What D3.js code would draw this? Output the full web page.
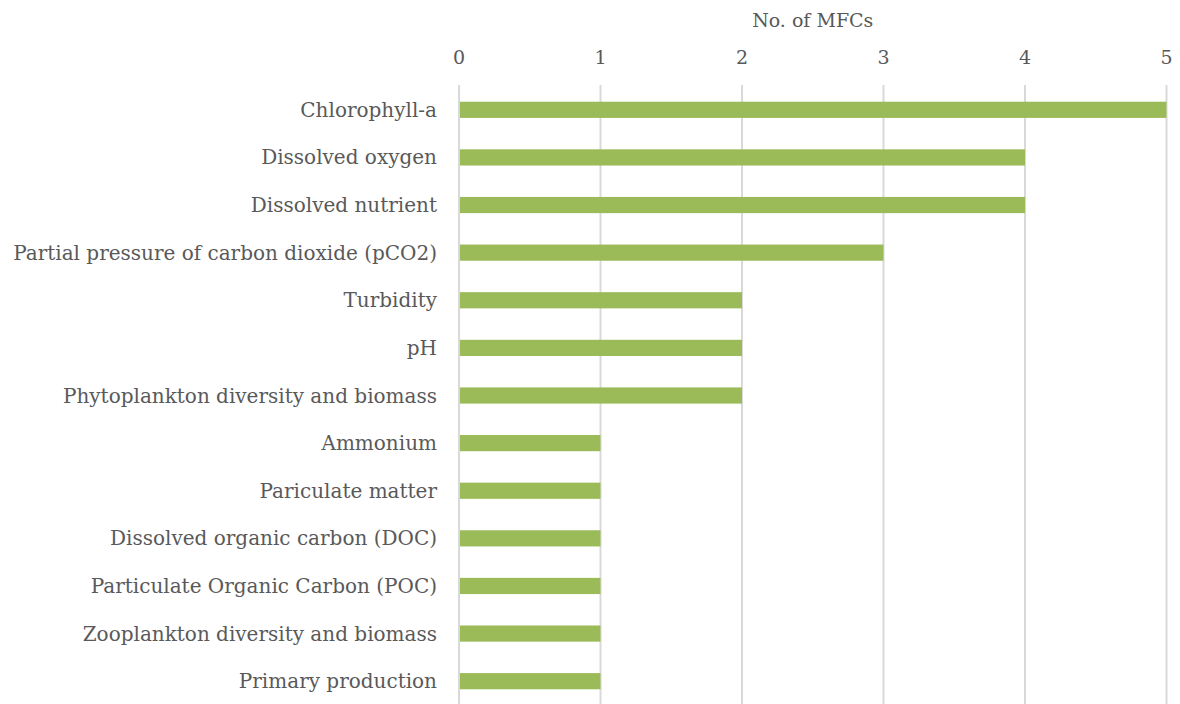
<!DOCTYPE html>
<html><head><meta charset="utf-8">
<script src="https://cdn.jsdelivr.net/npm/d3@7"></script>
<style>body{margin:0;background:#fff}text{font-family:"DejaVu Serif",serif;fill:#595959}</style>
</head><body><svg id="c" width="1180" height="704"></svg>
<script>
const categories = ["Chlorophyll-a","Dissolved oxygen","Dissolved nutrient","Partial pressure of carbon dioxide (pCO2)","Turbidity","pH","Phytoplankton diversity and biomass","Ammonium","Pariculate matter","Dissolved organic carbon (DOC)","Particulate Organic Carbon (POC)","Zooplankton diversity and biomass","Primary production"];
const values = [5,4,4,3,2,2,2,1,1,1,1,1,1];
const ticks = [0,1,2,3,4,5];
const axisTitle = "No. of MFCs";

const svg = d3.select("#c");
const x = d3.scaleLinear().domain([0,5]).range([459,1166.5]);
const y = d3.scaleBand().domain(categories).range([86,705]).paddingInner(0.66).paddingOuter(0.33);

svg.append("g").selectAll("line").data(ticks).join("line")
  .attr("x1",d=>x(d)).attr("x2",d=>x(d)).attr("y1",85).attr("y2",704)
  .attr("stroke","#d9d9d9").attr("stroke-width",2);

svg.append("g").selectAll("rect").data(values).join("rect")
  .attr("x",x(0)+1).attr("y",(d,i)=>y(categories[i]))
  .attr("width",d=>x(d)-x(0)-1).attr("height",y.bandwidth())
  .attr("fill","#9bbb59");

svg.append("g").selectAll("text").data(ticks).join("text")
  .attr("x",d=>x(d)).attr("y",64).attr("text-anchor","middle")
  .style("font-size","19px").text(d=>d);

svg.append("text").attr("x",(x(0)+x(5))/2).attr("y",27).attr("text-anchor","middle")
  .style("font-size","19px").text(axisTitle);

svg.append("g").selectAll("text").data(categories).join("text")
  .attr("x",437).attr("y",d=>y(d)+y.bandwidth()/2).attr("dy","0.35em")
  .attr("text-anchor","end").style("font-size","20px").text(d=>d);
</script></body></html>
